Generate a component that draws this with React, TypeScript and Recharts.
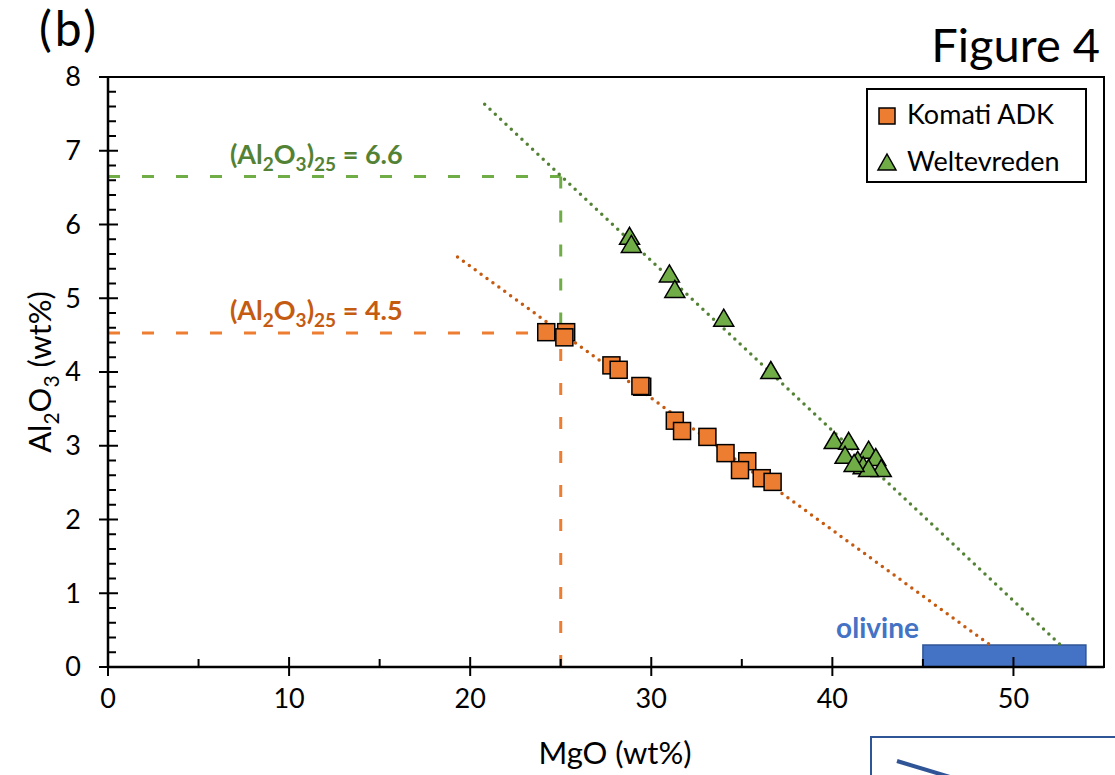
import { ScatterChart, Scatter, XAxis, YAxis, ReferenceLine, ReferenceArea, ReferenceDot, Label, Legend } from 'recharts';

const FONT = 'Lato, "Open Sans", sans-serif';

// series
const seriesNames = ['Komati ADK', 'Weltevreden'];
const komatiMgO = [24.2, 25.3, 25.2, 27.8, 28.2, 29.5, 29.4, 31.3, 31.7, 33.1, 34.1, 35.3, 34.9, 36.1, 36.7];
const komatiAl2O3 = [4.54, 4.54, 4.47, 4.09, 4.03, 3.8, 3.81, 3.34, 3.2, 3.12, 2.9, 2.79, 2.67, 2.56, 2.51];
const welteMgO = [28.8, 28.9, 31.0, 31.3, 34.0, 36.6, 40.1, 40.9, 40.7, 42.0, 41.4, 41.7, 42.4, 42.7, 42.0, 41.2];
const welteAl2O3 = [5.82, 5.71, 5.31, 5.1, 4.71, 4.0, 3.05, 3.04, 2.85, 2.92, 2.78, 2.71, 2.82, 2.67, 2.67, 2.74];

// trend lines (end points) and the 25 wt% MgO read-offs
const komatiTrend = [{ x: 19.3, y: 5.56 }, { x: 48.7, y: 0.3 }];
const welteTrend = [{ x: 20.8, y: 7.63 }, { x: 52.6, y: 0.3 }];
const mgoRef = 25;
const komatiAt25 = 4.53;
const welteAt25 = 6.65;
const komatiLabel = '4.5';
const welteLabel = '6.6';

// olivine field
const olivineMgO = [45, 54];
const olivineAl2O3 = [0, 0.3];

const xDomain = [0, 55];
const yDomain = [0, 8];
const xTicks = [0, 5, 10, 15, 20, 25, 30, 35, 40, 45, 50];
const yTicks = [
  0, 0.2, 0.4, 0.6, 0.8, 1, 1.2, 1.4, 1.6, 1.8, 2, 2.2, 2.4, 2.6, 2.8, 3, 3.2, 3.4, 3.6, 3.8, 4,
  4.2, 4.4, 4.6, 4.8, 5, 5.2, 5.4, 5.6, 5.8, 6, 6.2, 6.4, 6.6, 6.8, 7, 7.2, 7.4, 7.6, 7.8, 8,
];

const komati = komatiMgO.map((x, i) => ({ x, y: komatiAl2O3[i] }));
const welte = welteMgO.map((x, i) => ({ x, y: welteAl2O3[i] }));

const ORANGE = '#ED7D31';
const ORANGE_DARK = '#C55A11';
const GREEN = '#70AD47';
const GREEN_DARK = '#548235';
const BLUE = '#4472C4';

const isMajor = (v: number, step: number) => Math.abs(v / step - Math.round(v / step)) < 1e-6;

const XTick = ({ x, y, payload }: any) => {
  const major = isMajor(payload.value, 10);
  return (
    <g>
      <line x1={x} x2={x} y1={y - (major ? 10 : 8)} y2={major ? y + 9 : y} stroke="#000" strokeWidth={2} />
      {major && (
        <text x={x} y={y + 41} textAnchor="middle" fontSize={27} fontFamily={FONT} fill="#000">
          {payload.value}
        </text>
      )}
    </g>
  );
};

const YTick = ({ x, y, payload }: any) => {
  const major = isMajor(payload.value, 1);
  return (
    <g>
      <line x1={major ? x - 9 : x} x2={x + (major ? 10 : 8)} y1={y} y2={y} stroke="#000" strokeWidth={2} />
      {major && (
        <text x={x - 27} y={y} dy="0.35em" textAnchor="end" fontSize={27} fontFamily={FONT} fill="#000">
          {Math.round(payload.value)}
        </text>
      )}
    </g>
  );
};

const Square = ({ cx, cy }: any) => (
  <rect x={cx - 8.5} y={cy - 8.5} width={17} height={17} fill={ORANGE} stroke="#000" strokeWidth={1.5} />
);

const Triangle = ({ cx, cy }: any) => (
  <polygon
    points={`${cx},${cy - 10.5} ${cx + 10},${cy + 6.5} ${cx - 10},${cy + 6.5}`}
    fill={GREEN}
    stroke="#000"
    strokeWidth={1.5}
  />
);

const refLabel = (value: string, color: string) => ({ viewBox }: any) => (
  <text x={viewBox.x} y={viewBox.y - 13} textAnchor="middle" fontSize={27} fontWeight="bold" fontFamily={FONT} fill={color}>
    (Al<tspan fontSize={19} dy={7}>2</tspan>
    <tspan dy={-7}>O</tspan>
    <tspan fontSize={19} dy={7}>3</tspan>
    <tspan dy={-7}>)</tspan>
    <tspan fontSize={19} dy={7}>25</tspan>
    <tspan dy={-7}>{` = ${value}`}</tspan>
  </text>
);

const LegendBox = () => (
  <div
    style={{
      position: 'relative',
      width: 221,
      height: 95,
      border: '2px solid #000',
      boxSizing: 'border-box',
      background: '#fff',
      fontFamily: FONT,
      fontSize: 27,
      color: '#000',
    }}
  >
    <svg width={24} height={24} style={{ position: 'absolute', left: 8, top: 14 }}>
      <rect x={3} y={4} width={16} height={16} fill={ORANGE} stroke="#000" strokeWidth={1.5} />
    </svg>
    <div style={{ position: 'absolute', left: 39, top: 9, lineHeight: '30px', whiteSpace: 'nowrap' }}>{seriesNames[0]}</div>
    <svg width={24} height={24} style={{ position: 'absolute', left: 8, top: 61 }}>
      <polygon points="11,3 20,19 2,19" fill={GREEN} stroke="#000" strokeWidth={1.5} />
    </svg>
    <div style={{ position: 'absolute', left: 39, top: 56, lineHeight: '30px', whiteSpace: 'nowrap' }}>{seriesNames[1]}</div>
  </div>
);

export default function App() {
  return (
    <div style={{ position: 'absolute', left: 0, top: 0, width: 1115, height: 775, background: '#fff' }}>
      <ScatterChart width={1115} height={775} margin={{ top: 77, right: 11, bottom: 107, left: 107 }}>
        <XAxis
          type="number"
          dataKey="x"
          domain={xDomain}
          ticks={xTicks}
          interval={0}
          allowDataOverflow
          height={1}
          tickSize={0}
          tickMargin={0}
          tickLine={false}
          tick={<XTick />}
          axisLine={{ stroke: '#000', strokeWidth: 2.5 }}
        >
          <Label
            content={({ viewBox }: any) => (
              <text x={viewBox.x + viewBox.width / 2 + 9} y={viewBox.y + 97} textAnchor="middle" fontSize={31} fontFamily={FONT} fill="#000">
                MgO (wt%)
              </text>
            )}
          />
        </XAxis>
        <YAxis
          type="number"
          dataKey="y"
          domain={yDomain}
          ticks={yTicks}
          interval={0}
          allowDataOverflow
          width={1}
          tickSize={0}
          tickMargin={0}
          tickLine={false}
          tick={<YTick />}
          axisLine={{ stroke: '#000', strokeWidth: 2.5 }}
        >
          <Label
            content={({ viewBox }: any) => {
              const cx = viewBox.x + viewBox.width - 57;
              const cy = viewBox.y + viewBox.height / 2;
              return (
                <text x={cx} y={cy} transform={`rotate(-90 ${cx} ${cy})`} textAnchor="middle" fontSize={31} fontFamily={FONT} fill="#000">
                  Al<tspan fontSize={21} dy={8}>2</tspan>
                  <tspan dy={-8}>O</tspan>
                  <tspan fontSize={21} dy={8}>3</tspan>
                  <tspan dy={-8}> (wt%)</tspan>
                </text>
              );
            }}
          />
        </YAxis>

        <ReferenceArea x1={xDomain[0]} x2={xDomain[1]} y1={yDomain[0]} y2={yDomain[1]} fill="none" stroke="#000" strokeWidth={2} />
        <ReferenceArea
          x1={olivineMgO[0]}
          x2={olivineMgO[1]}
          y1={olivineAl2O3[0]}
          y2={olivineAl2O3[1]}
          fill={BLUE}
          fillOpacity={1}
          stroke="#2F5597"
          strokeWidth={1.5}
        />
        <ReferenceDot
          x={olivineMgO[0]}
          y={olivineAl2O3[1]}
          r={0}
          fill="none"
          stroke="none"
          label={{
            content: ({ viewBox }: any) => (
              <text x={viewBox.x - 4} y={viewBox.y - 7} textAnchor="end" fontSize={28} fontWeight="bold" fontFamily={FONT} fill={BLUE}>
                olivine
              </text>
            ),
          }}
        />

        {/* read-offs at 25 wt% MgO */}
        <ReferenceLine
          segment={[{ x: 0, y: welteAt25 }, { x: mgoRef, y: welteAt25 }]}
          stroke={GREEN}
          strokeWidth={3}
          strokeDasharray="12 22"
        />
        <ReferenceLine
          segment={[{ x: mgoRef, y: welteAt25 }, { x: mgoRef, y: komatiAt25 }]}
          stroke={GREEN}
          strokeWidth={3}
          strokeDasharray="12 22"
        />
        <ReferenceLine
          segment={[{ x: 0, y: komatiAt25 }, { x: mgoRef, y: komatiAt25 }]}
          stroke={ORANGE}
          strokeWidth={3}
          strokeDasharray="12 22"
        />
        <ReferenceLine
          segment={[{ x: mgoRef, y: 0 }, { x: mgoRef, y: komatiAt25 }]}
          stroke={ORANGE}
          strokeWidth={3}
          strokeDasharray="12 22"
        />
        <ReferenceDot x={11.5} y={welteAt25} r={0} fill="none" stroke="none" label={{ content: refLabel(welteLabel, GREEN_DARK) }} />
        <ReferenceDot x={11.5} y={komatiAt25} r={0} fill="none" stroke="none" label={{ content: refLabel(komatiLabel, ORANGE_DARK) }} />

        <Scatter name={seriesNames[0]} data={komati} shape={<Square />} isAnimationActive={false} />
        <Scatter name={seriesNames[1]} data={welte} shape={<Triangle />} isAnimationActive={false} />

        {/* regression lines */}
        <ReferenceLine
          segment={komatiTrend}
          stroke={ORANGE_DARK}
          strokeWidth={3.5}
          strokeDasharray="0 7.3"
          strokeLinecap="round"
        />
        <ReferenceLine
          segment={welteTrend}
          stroke={GREEN_DARK}
          strokeWidth={3.5}
          strokeDasharray="0 7.3"
          strokeLinecap="round"
        />

        <Legend
          layout="horizontal"
          align="center"
          verticalAlign="middle"
          content={<LegendBox />}
          wrapperStyle={{ position: 'absolute', left: 866, top: 88, width: 221, height: 95 }}
        />
      </ScatterChart>

      <svg width={1115} height={775} style={{ position: 'absolute', left: 0, top: 0, pointerEvents: 'none' }}>
        <text x={39} y={46} fontSize={48} letterSpacing={3} fontFamily={FONT} fill="#000">(b)</text>
        <text x={1100} y={62} textAnchor="end" fontSize={47} fontFamily={FONT} fill="#000">Figure 4</text>
        <rect x={871} y={737} width={260} height={60} fill="none" stroke="#2F5597" strokeWidth={2} />
        <line x1={897} y1={761} x2={950} y2={777} stroke="#2F5597" strokeWidth={4} />
      </svg>
    </div>
  );
}
